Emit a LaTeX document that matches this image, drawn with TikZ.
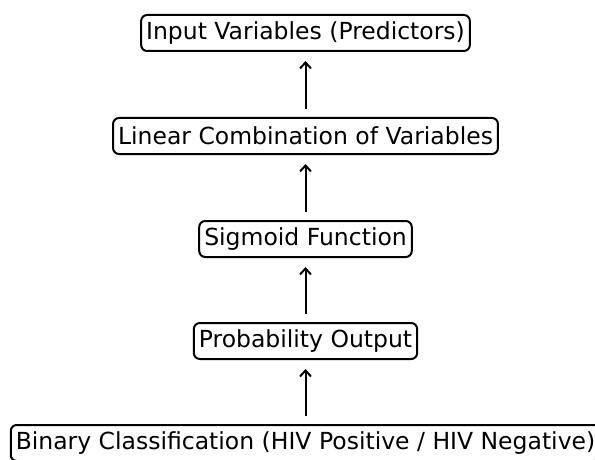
\documentclass[tikz,border=0pt]{standalone}
\usepackage{fontspec}
\setmainfont{DejaVu Sans}
\usetikzlibrary{arrows.meta}
\begin{document}
\begin{tikzpicture}[x=1pt,y=-1pt,
  stepbox/.style={draw=black, line width=2pt, rounded corners=6pt, fill=white,
    font=\fontsize{23.5}{27}\selectfont, inner xsep=5pt, inner ysep=2pt, minimum height=36pt},
  link/.style={line width=2pt, -{Straight Barb[length=6pt,width=11pt,line width=2pt]}, shorten <=8pt, shorten >=9pt}]
\useasboundingbox (0,0) rectangle (595,460);
\node[stepbox] (in) at (305.5,33) {Input Variables (Predictors)};
\node[stepbox] (lin) at (305.5,136) {Linear Combination of Variables};
\node[stepbox] (sig) at (305.5,239) {Sigmoid Function};
\node[stepbox] (prob) at (305.5,341) {Probability Output};
\node[stepbox] (bin) at (305.5,443) {Binary Classification (HIV Positive / HIV Negative)};
\draw[link] (lin) -- (in);
\draw[link] (sig) -- (lin);
\draw[link] (prob) -- (sig);
\draw[link] (bin) -- (prob);
\end{tikzpicture}
\end{document}
